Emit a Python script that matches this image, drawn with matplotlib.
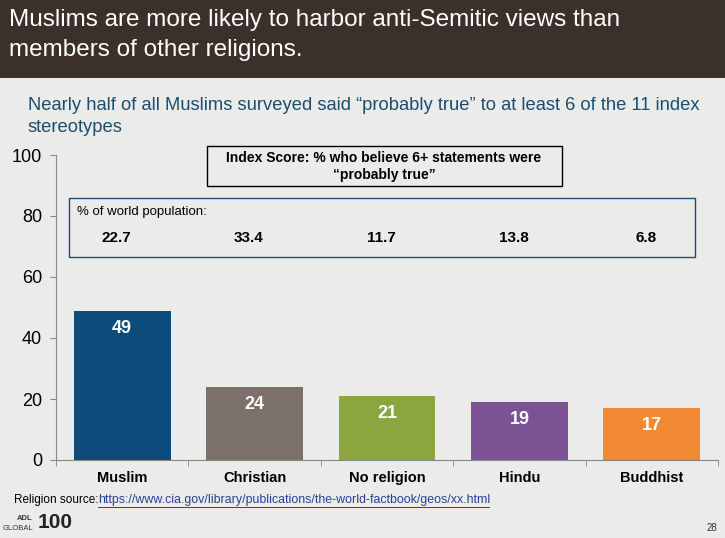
import matplotlib
matplotlib.use("Agg")
import matplotlib.pyplot as plt
from matplotlib.patches import Rectangle

categories = ["Muslim", "Christian", "No religion", "Hindu", "Buddhist"]
index_scores = [49, 24, 21, 19, 17]
world_pop = ["22.7", "33.4", "11.7", "13.8", "6.8"]
bar_colors = ["#0d4b7c", "#7b706a", "#8ba63f", "#7b5294", "#f28a34"]
yticks = [0, 20, 40, 60, 80, 100]

plt.rcParams['font.family'] = ['Liberation Sans', 'DejaVu Sans']

W, H = 725, 538
fig = plt.figure(figsize=(W / 100, H / 100), dpi=100)
fig.patch.set_facecolor("#ebebea")

def fx(px):
    return px / W

def fy(py):
    return 1 - py / H

# header band
fig.patches.append(Rectangle((0, fy(78)), 1, 78 / H, transform=fig.transFigure,
                             facecolor="#3b302a", edgecolor="none", zorder=0))
fig.text(fx(9), fy(20), "Muslims are more likely to harbor anti-Semitic views than",
         color="white", fontsize=17.5, va="center", ha="left")
fig.text(fx(9), fy(50), "members of other religions.",
         color="white", fontsize=17.5, va="center", ha="left")

fig.text(fx(28), fy(105), "Nearly half of all Muslims surveyed said \u201cprobably true\u201d to at least 6 of the 11 index",
         color="#1d4d6d", fontsize=13.2, va="center", ha="left")
fig.text(fx(28), fy(127), "stereotypes", color="#1d4d6d", fontsize=13.2, va="center", ha="left")

ax = fig.add_axes([fx(56), fy(460), fx(718) - fx(56), (460 - 155) / H])
ax.set_facecolor("none")
x = list(range(len(categories)))
bars = ax.bar(x, index_scores, width=0.73, color=bar_colors, zorder=2)
for xi, v in zip(x, index_scores):
    ax.text(xi, v - 3.0, str(v), ha="center", va="top", color="white",
            fontsize=13, fontweight="bold")
ax.set_xlim(-0.5, len(categories) - 0.5)
ax.set_ylim(0, 100)
ax.set_yticks(yticks)
ax.set_yticklabels([str(t) for t in yticks], fontsize=13)
ax.set_xticks(x)
ax.set_xticklabels(categories, fontsize=10.5, fontweight="bold")
ax.set_xticks([i - 0.5 for i in range(len(categories) + 1)], minor=True)
ax.tick_params(axis="x", which="major", length=0, pad=8)
ax.tick_params(axis="x", which="minor", length=4, direction="out", color="#888888")
ax.tick_params(axis="y", length=4, color="#888888", pad=6)
for s in ["top", "right"]:
    ax.spines[s].set_visible(False)
ax.spines["left"].set_color("#888888")
ax.spines["bottom"].set_color("#888888")

# Index score box
fig.patches.append(Rectangle((fx(207), fy(186)), fx(562) - fx(207), 40 / H,
                             transform=fig.transFigure, facecolor="none",
                             edgecolor="black", linewidth=1, zorder=3))
fig.text(fx(384), fy(158), "Index Score: % who believe 6+ statements were",
         ha="center", va="center", fontsize=10, fontweight="bold")
fig.text(fx(384), fy(175), "\u201cprobably true\u201d",
         ha="center", va="center", fontsize=10, fontweight="bold")

# world population box
fig.patches.append(Rectangle((fx(69), fy(257)), fx(695) - fx(69), 59 / H,
                             transform=fig.transFigure, facecolor="none",
                             edgecolor="#1d4d6d", linewidth=1, zorder=3))
fig.text(fx(77), fy(212), "% of world population:", ha="left", va="center", fontsize=9.5)
for xi, p in zip(x, world_pop):
    xd = ax.transData.transform((xi, 0))[0]
    xf = fig.transFigure.inverted().transform((xd, 0))[0]
    fig.text(xf - 0.008, fy(238), p, ha="center", va="center", fontsize=11, fontweight="bold")

# footer
fig.text(fx(14), fy(500), "Religion source:", ha="left", va="center", fontsize=8.5)
fig.text(fx(98), fy(500), "https://www.cia.gov/library/publications/the-world-factbook/geos/xx.html",
         ha="left", va="center", fontsize=8.9, color="#2a3f9a")
fig.lines.append(plt.Line2D([fx(98), fx(489)], [fy(507), fy(507)], transform=fig.transFigure,
                            color="#2a3f9a", linewidth=0.7))
fig.text(fx(17), fy(518), "ADL", ha="left", va="center", fontsize=5.5, fontweight="bold", color="#333333")
fig.text(fx(3), fy(528), "GLOBAL", ha="left", va="center", fontsize=5.5, color="#333333")
fig.text(fx(38), fy(523), "100", ha="left", va="center", fontsize=15, fontweight="bold", color="#222222")
fig.text(fx(712), fy(528), "28", ha="center", va="center", fontsize=7, color="#333333")

fig.savefig("out.png", dpi=100, facecolor=fig.get_facecolor())
